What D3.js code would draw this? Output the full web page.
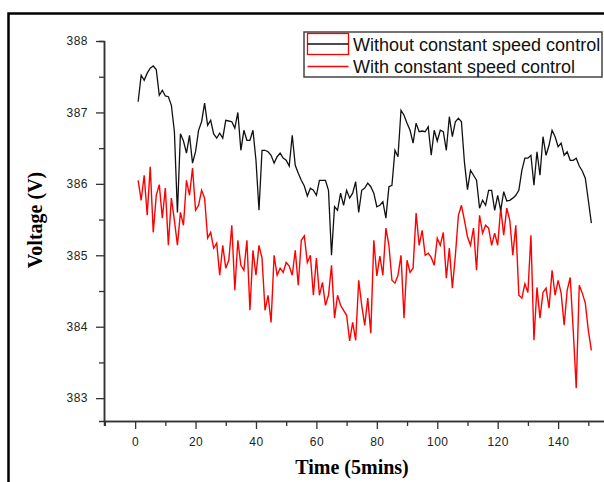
<!DOCTYPE html>
<html lang="en">
  <head>
    <meta charset="UTF-8" />
    <title>Voltage with and without constant speed control</title>
    <style>
      body {
        margin: 0;
        background-color: white;
      }
      .tick text {
        font-family: "Liberation Sans", Arial, sans-serif;
        font-size: 12px;
        fill: #222;
        letter-spacing: 0.5px;
      }
      .axis-title {
        font-family: "Liberation Serif", "Times New Roman", serif;
        font-weight: bold;
        font-size: 20px;
        fill: black;
      }
      .legend-text {
        font-family: "Liberation Sans", Arial, sans-serif;
        font-size: 18px;
        fill: #111;
      }
    </style>
  </head>
  <body>
    <script src="https://d3js.org/d3.v7.min.js"></script>
    <svg id="chart" width="604" height="482"></svg>
    <script>
      // data (time step 1..151, 5 min each)
      var withoutControl = [
        387.15, 387.52, 387.45, 387.55, 387.62, 387.65, 387.6, 387.24, 387.31, 387.23,
        387.22, 387.1, 386.73, 385.6, 386.7, 386.6, 386.43, 386.68, 386.29, 386.45,
        386.75, 386.87, 387.13, 386.82, 386.89, 386.7, 386.64, 386.71, 386.64, 386.89,
        386.88, 386.87, 386.78, 387.0, 386.47, 386.75, 386.61, 386.61, 386.75, 386.33,
        385.63, 386.47, 386.47, 386.45, 386.4, 386.29, 386.38, 386.43, 386.36, 386.33,
        386.25, 386.68, 386.26, 386.15, 386.05, 385.97, 385.83, 385.94, 385.91, 385.84,
        386.05, 386.05, 386.05, 385.91, 385.0, 385.68, 385.63, 385.87, 385.7, 385.91,
        385.8, 385.87, 386.03, 385.6, 385.91, 385.94, 386.01, 385.96, 385.87, 385.68,
        385.7, 385.75, 385.52, 385.96, 385.98, 386.47, 386.38, 387.03, 386.96, 386.85,
        386.75, 386.57, 386.85, 386.73, 386.74, 386.73, 386.8, 386.4, 386.75, 386.6,
        386.75, 386.73, 386.47, 386.94, 386.66, 386.87, 386.92, 386.87, 386.3, 385.92,
        386.19, 386.12, 386.05, 385.66, 385.77, 385.7, 385.91, 385.91, 385.63, 385.84,
        385.63, 385.89, 385.76, 385.77, 385.8, 385.84, 385.91, 386.19, 386.36, 386.36,
        386.4, 385.98, 386.45, 386.12, 386.66, 386.4, 386.54, 386.75, 386.66, 386.52,
        386.57, 386.4, 386.45, 386.33, 386.33, 386.36, 386.25, 386.18, 386.08, 385.77,
        385.45
      ];
      var withControl = [
        386.05, 385.77, 386.12, 385.56, 386.24, 385.32, 385.84, 385.99, 385.52, 385.94,
        385.14, 385.8, 385.49, 385.14, 385.6, 385.42, 386.05, 385.84, 386.22, 385.63,
        385.7, 385.91, 385.8, 385.24, 385.32, 385.1, 385.17, 384.72, 385.14, 384.82,
        384.93, 385.42, 384.51, 385.21, 384.86, 384.79, 385.21, 384.23, 385.07, 384.72,
        385.14, 384.96, 384.23, 384.44, 384.06, 385.0, 384.72, 384.82, 384.76, 384.9,
        384.85, 384.72, 385.07, 384.58, 385.21, 385.27, 384.9, 385.0, 384.44, 384.96,
        384.44, 384.62, 384.3, 384.44, 384.86, 384.12, 384.44, 384.3, 384.23, 384.16,
        383.8, 384.06, 383.81, 384.65, 384.3, 384.02, 384.4, 383.91, 385.21, 384.71,
        384.99, 384.72, 385.38, 385.14, 384.65, 384.61, 384.72, 385.0, 384.12, 384.93,
        384.76, 384.82, 385.59, 385.14, 385.35, 385.0, 385.03, 384.97, 384.86, 385.24,
        385.14, 385.32, 384.68, 385.1, 384.54, 385.0, 385.56, 385.7, 385.49, 385.26,
        385.14, 385.38, 384.79, 385.56, 385.31, 385.42, 385.38, 385.14, 385.31, 385.14,
        385.66, 385.28, 385.66, 385.49, 385.0, 385.42, 384.44, 384.4, 384.6, 384.48,
        385.28, 383.81, 384.55, 384.12, 384.48, 384.54, 384.26, 384.79, 384.44, 384.65,
        384.47, 384.02, 384.51, 384.69, 383.95, 383.14, 384.58, 384.47, 384.33, 383.95,
        383.67
      ];
      var time = withoutControl.map(function (d, i) {
        return i + 1;
      });

      var xMajorTicks = [0, 20, 40, 60, 80, 100, 120, 140];
      var xMinorTicks = [-10, 10, 30, 50, 70, 90, 110, 130, 150];
      var yMajorTicks = [383, 384, 385, 386, 387, 388];
      var yMinorTicks = [383.5, 384.5, 385.5, 386.5, 387.5];

      var seriesNames = ["Without constant speed control", "With constant speed control"];

      var svg = d3.select("#chart");

      // outer frame (its right and bottom sides fall outside the picture)
      svg
        .append("rect")
        .attr("x", 8.5)
        .attr("y", 13.5)
        .attr("width", 640)
        .attr("height", 520)
        .attr("fill", "white")
        .attr("stroke", "black")
        .attr("stroke-width", 2.5);

      var x = d3.scaleLinear().domain([-10.3, 158]).range([104, 612.5]);
      var y = d3.scaleLinear().domain([382.68, 388]).range([421, 41]);

      // axes
      var xMinor = svg
        .append("g")
        .attr("transform", "translate(0,421)")
        .call(d3.axisBottom(x).tickValues(xMinorTicks).tickSize(5).tickFormat(""));
      var xMajor = svg
        .append("g")
        .attr("transform", "translate(0,421)")
        .call(
          d3.axisBottom(x).tickValues(xMajorTicks).tickSize(8).tickPadding(8).tickSizeOuter(0).tickFormat(d3.format("d"))
        );
      var yMinor = svg
        .append("g")
        .attr("transform", "translate(104,0)")
        .call(d3.axisLeft(y).tickValues(yMinorTicks).tickSize(5).tickFormat(""));
      var yMajor = svg
        .append("g")
        .attr("transform", "translate(104,0)")
        .call(
          d3.axisLeft(y).tickValues(yMajorTicks).tickSize(8).tickPadding(8).tickSizeOuter(0).tickFormat(d3.format("d"))
        );

      [xMinor, xMajor, yMinor, yMajor].forEach(function (g) {
        g.selectAll("line").attr("stroke", "#333").attr("stroke-width", 1.3);
        g.select(".domain").attr("stroke", "#333").attr("stroke-width", 1.5);
      });
      yMajor.select(".domain").attr("d", "M0.5," + y(388) + "V" + 421);

      // lines
      var line = function (values) {
        return d3
          .line()
          .x(function (d, i) {
            return x(time[i]);
          })
          .y(function (d) {
            return y(d);
          })(values);
      };

      svg
        .append("path")
        .attr("d", line(withControl))
        .attr("fill", "none")
        .attr("stroke", "#ff0000")
        .attr("stroke-width", 1.4);

      svg
        .append("path")
        .attr("d", line(withoutControl))
        .attr("fill", "none")
        .attr("stroke", "#111")
        .attr("stroke-width", 1.3);

      // axis titles
      svg
        .append("text")
        .attr("class", "axis-title")
        .attr("x", 352)
        .attr("y", 474)
        .attr("text-anchor", "middle")
        .text("Time (5mins)");

      svg
        .append("text")
        .attr("class", "axis-title")
        .attr("transform", "translate(42,220) rotate(-90)")
        .attr("text-anchor", "middle")
        .text("Voltage (V)");

      // legend
      var legend = svg.append("g");
      legend
        .append("rect")
        .attr("x", 304)
        .attr("y", 32)
        .attr("width", 298)
        .attr("height", 45)
        .attr("fill", "white")
        .attr("stroke", "#444")
        .attr("stroke-width", 1.5);

      legend
        .append("rect")
        .attr("x", 307.5)
        .attr("y", 33.5)
        .attr("width", 41)
        .attr("height", 21)
        .attr("fill", "none")
        .attr("stroke", "#ff0000")
        .attr("stroke-width", 1.3);
      legend
        .append("line")
        .attr("x1", 307.5)
        .attr("x2", 348.5)
        .attr("y1", 44)
        .attr("y2", 44)
        .attr("stroke", "#111")
        .attr("stroke-width", 1.3);
      legend
        .append("line")
        .attr("x1", 307.5)
        .attr("x2", 348.5)
        .attr("y1", 66.5)
        .attr("y2", 66.5)
        .attr("stroke", "#ff0000")
        .attr("stroke-width", 1.3);

      legend
        .selectAll("text.legend-text")
        .data(seriesNames)
        .enter()
        .append("text")
        .attr("class", "legend-text")
        .attr("x", 353)
        .attr("y", function (d, i) {
          return 51 + i * 22;
        })
        .text(function (d) {
          return d;
        });
    </script>
  </body>
</html>
